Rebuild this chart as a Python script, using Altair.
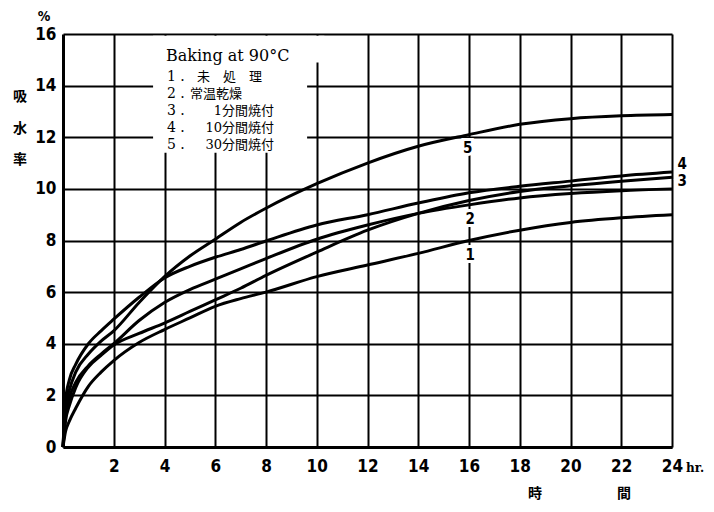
import altair as alt
import pandas as pd

# ---- data ----
hours = [0, 0.1, 0.25, 0.5, 1, 1.5, 2, 3, 4, 5, 6, 7, 8, 10, 12, 14, 16, 18, 20, 22, 24]
curve1 = [0, 0.6, 1.0, 1.5, 2.35, 2.9, 3.35, 4.05, 4.55, 5.0, 5.45, 5.75, 6.0, 6.6, 7.05, 7.5, 8.0, 8.4, 8.7, 8.88, 9.0]
curve2 = [0, 1.2, 1.9, 2.5, 3.15, 3.6, 4.0, 4.9, 5.6, 6.1, 6.5, 6.9, 7.3, 8.05, 8.6, 9.05, 9.38, 9.65, 9.82, 9.93, 10.0]
curve3 = [0, 1.0, 1.6, 2.3, 3.1, 3.55, 3.95, 4.4, 4.8, 5.25, 5.7, 6.15, 6.65, 7.55, 8.4, 9.05, 9.55, 9.9, 10.12, 10.3, 10.45]
curve4 = [0, 1.8, 2.6, 3.2, 4.0, 4.5, 4.95, 5.8, 6.55, 7.0, 7.35, 7.65, 7.98, 8.6, 9.0, 9.45, 9.85, 10.1, 10.3, 10.5, 10.65]
curve5 = [0, 1.5, 2.2, 2.9, 3.6, 4.1, 4.5, 5.6, 6.6, 7.4, 8.05, 8.7, 9.25, 10.2, 11.0, 11.65, 12.1, 12.5, 12.72, 12.83, 12.88]

x_ticks = [2, 4, 6, 8, 10, 12, 14, 16, 18, 20, 22, 24]
y_ticks = [0, 2, 4, 6, 8, 10, 12, 14, 16]

label_text = ["1", "2", "5", "3", "4"]
label_hr = [16.05, 16.05, 15.95, 24.4, 24.4]
label_val = [7.45, 8.85, 11.6, 10.3, 10.95]

legend_title = "Baking at 90°C"
legend_nums = ["1 .", "2 .", "3 .", "4 .", "5 ."]
legend_items = ["未　処　理", "常温乾燥", "1分間焼付", "10分間焼付", "30分間焼付"]

# legend mask (white area behind the legend), in data units
mask_x = [3.55, 9.62]
mask_x2 = [9.62, 10.3]
mask_y = [11.4, 14.9]
mask_y2 = [15.93, 15.93]

rows = []
for name, vals in zip(["1", "2", "3", "4", "5"], [curve1, curve2, curve3, curve4, curve5]):
    for h, v in zip(hours, vals):
        rows.append({"hr": h, "val": v, "curve": name})
df = pd.DataFrame(rows)

NUMFONT = "Liberation Sans Narrow, DejaVu Sans Condensed, sans-serif"
CJK = "Noto Sans CJK JP"
W, H = 609, 413
OX, OY = 63, 34  # plot origin on the page (used for annotation pixel offsets)

xs = alt.Scale(domain=[0, 24], nice=False)
ys = alt.Scale(domain=[0, 16], nice=False)

lines = alt.Chart(df).mark_line(color="black", strokeWidth=3, interpolate="monotone").encode(
    x=alt.X("hr:Q", scale=xs, axis=alt.Axis(
        values=x_ticks, title=None, grid=True, gridColor="black", gridWidth=2, gridOpacity=1,
        ticks=False, domainColor="black", domainWidth=3, labelFont=NUMFONT, labelFontWeight="bold",
        labelFontSize=17, labelColor="black", labelPadding=11, labelFlush=False)),
    y=alt.Y("val:Q", scale=ys, axis=alt.Axis(
        values=y_ticks, title=None, grid=True, gridColor="black", gridWidth=2, gridOpacity=1,
        ticks=False, domainColor="black", domainWidth=3, labelFont=NUMFONT, labelFontWeight="bold",
        labelFontSize=17, labelColor="black", labelPadding=7, labelFlush=False)),
    detail="curve:N",
)

mask = alt.Chart(pd.DataFrame({"x": mask_x, "x2": mask_x2, "y": mask_y, "y2": mask_y2})).mark_rect(
    color="white").encode(x=alt.X("x:Q", scale=xs), x2="x2:Q", y=alt.Y("y:Q", scale=ys), y2="y2:Q")

ldf = pd.DataFrame({"t": label_text, "hr": label_hr, "val": label_val})
halo = alt.Chart(ldf).mark_text(font=NUMFONT, fontWeight="bold", fontSize=15, color="white",
                                stroke="white", strokeWidth=6).encode(
    x=alt.X("hr:Q", scale=xs), y=alt.Y("val:Q", scale=ys), text="t:N")
labels = alt.Chart(ldf).mark_text(font=NUMFONT, fontWeight="bold", fontSize=15, color="black").encode(
    x=alt.X("hr:Q", scale=xs), y=alt.Y("val:Q", scale=ys), text="t:N")


def txt(s, px, py, font, size, weight="normal", align="left"):
    return alt.Chart(pd.DataFrame({"t": [s]})).mark_text(
        font=font, fontSize=size, fontWeight=weight, align=align, baseline="middle", color="black"
    ).encode(x=alt.value(px - OX), y=alt.value(py - OY), text="t:N")


layers = [mask, lines, halo, labels]
layers.append(txt(legend_title, 166, 56, "DejaVu Serif, serif", 16))
row_y = [77, 94, 111, 128, 145]
for i, (n, item) in enumerate(zip(legend_nums, legend_items)):
    layers.append(txt(n, 167, row_y[i], "DejaVu Serif, serif", 14))
    if i == 0:
        layers.append(txt(item, 197, row_y[i], CJK, 13))
    elif i == 1:
        layers.append(txt(item, 190, row_y[i], CJK, 13))
    else:
        layers.append(txt(item, 274, row_y[i], "DejaVu Serif, " + CJK, 13, align="right"))

# axis titles
layers.append(txt("%", 44, 17, NUMFONT, 14, "bold", "center"))
for ch, yy in zip(["吸", "水", "率"], [97, 129, 160]):
    layers.append(txt(ch, 20, yy, CJK, 14, "bold", "center"))
layers.append(txt("hr.", 686, 468, "DejaVu Serif, serif", 12, "bold"))
layers.append(txt("時", 535, 494, CJK, 14, "bold", "center"))
layers.append(txt("間", 624, 494, CJK, 14, "bold", "center"))

chart = alt.layer(*layers).properties(
    width=W, height=H,
    autosize=alt.AutoSizeParams(type="none"),
    padding={"left": 55, "top": 26, "right": 34, "bottom": 55},
    background="white",
).configure_view(stroke=None)

chart.save("out.html", embed_options={"renderer": "svg", "actions": False})
